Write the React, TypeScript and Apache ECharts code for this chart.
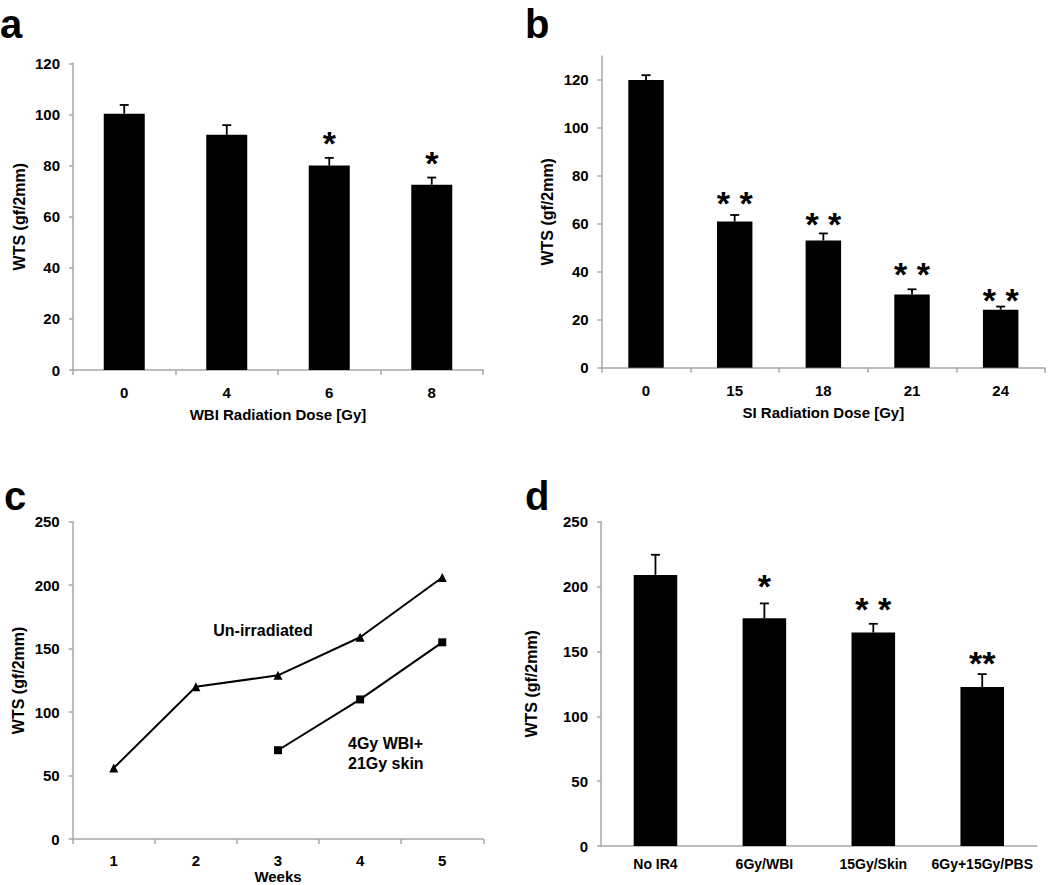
import React, { useEffect, useRef } from "react";
import * as echarts from "echarts";

// Panel a
const aCats = ["0", "4", "6", "8"];
const aMeans = [100.3, 92, 80, 72.5];
const aUpper = [103.7, 95.8, 83, 75.3];
const aStars = ["", "", "*", "*"];
const aStarY = [0, 0, 91, 83.5];
const aTicks = [0, 20, 40, 60, 80, 100, 120];

// Panel b
const bCats = ["0", "15", "18", "21", "24"];
const bMeans = [120, 61, 53, 30.5, 24.2];
const bUpper = [122, 63.7, 56, 32.7, 25.5];
const bStars = ["", "* *", "* *", "* *", "* *"];
const bStarY = [0, 71.4, 62.3, 41.5, 30.6];
const bTicks = [0, 20, 40, 60, 80, 100, 120];

// Panel c
const cWeeks = ["1", "2", "3", "4", "5"];
const cUnirradiated = [56, 120, 129, 159, 206];
const cIrradiated = [null, null, 70, 110, 155];
const cTicks = [0, 50, 100, 150, 200, 250];

// Panel d
const dCats = ["No IR4", "6Gy/WBI", "15Gy/Skin", "6Gy+15Gy/PBS"];
const dMeans = [209, 175.5, 164.5, 122.5];
const dUpper = [224.5, 187, 171.3, 132.5];
const dStars = ["", "*", "* *", "**"];
const dStarY = [0, 205, 187, 146];
const dTicks = [0, 50, 100, 150, 200, 250];

const FONT = "'Liberation Sans', Arial, Helvetica, sans-serif";
const AXIS_GRAY = "#a8a8a8";

function App() {
  const ref = useRef<HTMLDivElement>(null);

  useEffect(() => {
    document.body.style.margin = "0";
    if (!ref.current) return;
    const chart = echarts.init(ref.current, undefined, { renderer: "svg" });

    const labelStyle = { color: "#000", fontFamily: FONT, fontWeight: "bold" as const, fontSize: 15 };
    const nameStyle = { color: "#000", fontFamily: FONT, fontWeight: "bold" as const, fontSize: 15 };
    const yNameStyle = { color: "#000", fontFamily: FONT, fontWeight: "bold" as const, fontSize: 16 };

    const catAxis = (grid: number, data: string[], opts: any = {}) => ({
      type: "category",
      gridIndex: grid,
      data,
      boundaryGap: true,
      axisLine: { show: true, lineStyle: { color: AXIS_GRAY, width: 1.5 } },
      axisTick: { show: true, length: 5, lineStyle: { color: AXIS_GRAY, width: 1.5 } },
      axisLabel: { ...labelStyle, margin: 15 },
      nameLocation: "middle",
      nameTextStyle: nameStyle,
      splitLine: { show: false },
      ...opts,
    });

    const valAxis = (grid: number, max: number, interval: number, ticks: number[], opts: any = {}) => ({
      type: "value",
      gridIndex: grid,
      min: 0,
      max,
      interval,
      axisLine: { show: true, lineStyle: { color: AXIS_GRAY, width: 1.5 } },
      axisTick: { show: true, length: 4, customValues: ticks, lineStyle: { color: AXIS_GRAY, width: 1.5 } },
      axisLabel: { ...labelStyle, margin: 13, customValues: ticks },
      splitLine: { show: false },
      name: "WTS (gf/2mm)",
      nameLocation: "middle",
      nameRotate: 90,
      nameGap: 46,
      nameTextStyle: yNameStyle,
      ...opts,
    });

    const barSeries = (idx: number, data: number[]) => ({
      type: "bar",
      xAxisIndex: idx,
      yAxisIndex: idx,
      data,
      barWidth: "40%",
      itemStyle: { color: "#000" },
      z: 2,
    });

    const errSeries = (idx: number, means: number[], upper: number[]) => ({
      type: "custom",
      xAxisIndex: idx,
      yAxisIndex: idx,
      z: 3,
      data: means.map((m, i) => [i, m, upper[i]]),
      renderItem: (params: any, api: any) => {
        const p0 = api.coord([api.value(0), api.value(1)]);
        const p1 = api.coord([api.value(0), api.value(2)]);
        const st = { stroke: "#000", lineWidth: 1.8 };
        return {
          type: "group",
          children: [
            { type: "line", shape: { x1: p0[0], y1: p0[1], x2: p1[0], y2: p1[1] }, style: st },
            { type: "line", shape: { x1: p1[0] - 4.5, y1: p1[1], x2: p1[0] + 4.5, y2: p1[1] }, style: st },
          ],
        };
      },
    });

    const starSeries = (idx: number, stars: string[], ys: number[]) => ({
      type: "custom",
      xAxisIndex: idx,
      yAxisIndex: idx,
      z: 4,
      data: ys.map((v, i) => [i, v]),
      renderItem: (params: any, api: any) => {
        const s = stars[params.dataIndex];
        if (!s) return null;
        const p = api.coord([api.value(0), api.value(1)]);
        return {
          type: "text",
          x: p[0],
          y: p[1] + 6,
          style: {
            text: s,
            fill: "#000",
            font: `bold 34px ${FONT}`,
            textAlign: "center",
            textVerticalAlign: "middle",
          },
        };
      },
    });

    const letter = (t: string, x: number, y: number) => ({
      type: "text",
      x,
      y,
      style: { text: t, fill: "#000", font: `bold 40px ${FONT}`, textAlign: "left", textVerticalAlign: "top" },
    });

    const note = (t: string, x: number, y: number, align: string) => ({
      type: "text",
      x,
      y,
      style: { text: t, fill: "#000", font: `bold 16px ${FONT}`, textAlign: align, textVerticalAlign: "middle" },
    });

    const option: any = {
      animation: false,
      backgroundColor: "#fff",
      grid: [
        { left: 73, top: 63.3, width: 410, height: 306.7 },
        { left: 601.7, top: 56, width: 443.3, height: 311.7 },
        { left: 72.7, top: 521.7, width: 410.6, height: 321 },
        { left: 601, top: 521.7, width: 435.7, height: 324.3 },
      ],
      xAxis: [
        catAxis(0, aCats, { name: "WBI Radiation Dose [Gy]", nameGap: 37 }),
        catAxis(1, bCats, { name: "SI Radiation Dose [Gy]", nameGap: 37 }),
        catAxis(2, cWeeks, { name: "Weeks", nameGap: 26, axisLabel: { ...labelStyle, margin: 14 } }),
        catAxis(3, dCats, {
          axisTick: { show: false },
          axisLabel: { ...labelStyle, fontSize: 14, margin: 11, interval: 0 },
        }),
      ],
      yAxis: [
        valAxis(0, 120, 20, aTicks),
        valAxis(1, 130, 10, bTicks),
        valAxis(2, 250, 50, cTicks),
        valAxis(3, 250, 50, dTicks, { nameGap: 62 }),
      ],
      series: [
        barSeries(0, aMeans),
        errSeries(0, aMeans, aUpper),
        starSeries(0, aStars, aStarY),
        barSeries(1, bMeans),
        errSeries(1, bMeans, bUpper),
        starSeries(1, bStars, bStarY),
        {
          type: "line",
          name: "Un-irradiated",
          xAxisIndex: 2,
          yAxisIndex: 2,
          data: cUnirradiated,
          symbol: "triangle",
          symbolSize: 9,
          lineStyle: { color: "#000", width: 2 },
          itemStyle: { color: "#000" },
        },
        {
          type: "line",
          name: "4Gy WBI+ 21Gy skin",
          xAxisIndex: 2,
          yAxisIndex: 2,
          data: cIrradiated,
          symbol: "rect",
          symbolSize: 8,
          lineStyle: { color: "#000", width: 2 },
          itemStyle: { color: "#000" },
        },
        barSeries(3, dMeans),
        errSeries(3, dMeans, dUpper),
        starSeries(3, dStars, dStarY),
      ],
      graphic: [
        letter("a", 0, 4),
        letter("b", 525, 4),
        letter("c", 4, 476),
        letter("d", 525, 476),
        note("Un-irradiated", 263, 630, "center"),
        note("4Gy WBI+", 348, 743, "left"),
        note("21Gy skin", 348, 763, "left"),
      ],
    };

    chart.setOption(option);
    return () => chart.dispose();
  }, []);

  return <div ref={ref} style={{ width: 1050, height: 885 }} />;
}

export default App;
